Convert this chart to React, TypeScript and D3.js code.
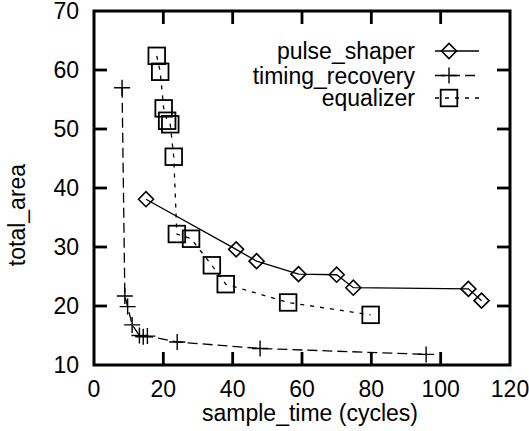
import React from "react";
import * as d3 from "d3";

const pulseX = [15.0, 41.0, 46.9, 59.0, 70.0, 74.8, 108.0, 111.8];
const pulseY = [38.1, 29.6, 27.6, 25.4, 25.3, 23.1, 22.9, 20.9];

const timingX = [8.1, 8.9, 9.7, 11.0, 13.1, 14.2, 15.4, 24.0, 47.9, 95.8];
const timingY = [57.0, 21.7, 19.9, 16.8, 15.0, 14.8, 14.9, 13.9, 12.8, 11.8];

const eqX = [18.1, 19.1, 20.1, 21.1, 22.0, 23.0, 23.9, 28.0, 34.0, 38.0, 56.0, 79.8];
const eqY = [62.4, 59.7, 53.5, 51.4, 50.8, 45.3, 32.2, 31.4, 26.9, 23.7, 20.6, 18.5];

const xTicks = [0, 20, 40, 60, 80, 100, 120];
const yTicks = [10, 20, 30, 40, 50, 60, 70];
const seriesNames = ["pulse_shaper", "timing_recovery", "equalizer"];

const W = 529;
const H = 431;
const L = 94;
const R = 510;
const T = 11;
const B = 365;
const FONT = "'Liberation Sans', Arial, Helvetica, sans-serif";

type Kind = "diamond" | "plus" | "square";

function Marker({ kind, x, y }: { kind: Kind; x: number; y: number }) {
  if (kind === "diamond") {
    const r = 7.5;
    return (
      <path
        d={`M${x - r},${y}L${x},${y - r}L${x + r},${y}L${x},${y + r}Z`}
        fill="none"
        stroke="#000"
        strokeWidth={1.6}
      />
    );
  }
  if (kind === "square") {
    const r = 8.3;
    return (
      <rect x={x - r} y={y - r} width={2 * r} height={2 * r} fill="none" stroke="#000" strokeWidth={1.8} />
    );
  }
  const r = 8;
  return (
    <path d={`M${x - r},${y}H${x + r}M${x},${y - r}V${y + r}`} fill="none" stroke="#000" strokeWidth={1.4} />
  );
}

export default function App() {
  const x = d3.scaleLinear().domain([0, 120]).range([L, R]);
  const y = d3.scaleLinear().domain([10, 70]).range([B, T]);
  const line = d3
    .line<[number, number]>()
    .x((d) => x(d[0]))
    .y((d) => y(d[1]));

  const series: { name: string; xs: number[]; ys: number[]; kind: Kind; dash?: string }[] = [
    { name: seriesNames[0], xs: pulseX, ys: pulseY, kind: "diamond" },
    { name: seriesNames[1], xs: timingX, ys: timingY, kind: "plus", dash: "10,5" },
    { name: seriesNames[2], xs: eqX, ys: eqY, kind: "square", dash: "4,6" },
  ];

  const legendRows = [51, 75.5, 98];
  const tickLen = 13;

  return (
    <svg
      width={W}
      height={H}
      style={{ position: "absolute", left: 0, top: 0, background: "#fff" }}
      fontFamily={FONT}
    >
      <rect x={0} y={0} width={W} height={H} fill="#fff" />
      {/* data lines */}
      {series.map((s) => (
        <path
          key={s.name + "l"}
          d={line(s.xs.map((v, i) => [v, s.ys[i]] as [number, number])) || ""}
          fill="none"
          stroke="#000"
          strokeWidth={1.3}
          strokeDasharray={s.dash}
        />
      ))}
      {series.map((s) =>
        s.xs.map((v, i) => <Marker key={s.name + i} kind={s.kind} x={x(v)} y={y(s.ys[i])} />)
      )}
      {/* ticks */}
      {xTicks.map((t) => (
        <g key={"xt" + t}>
          {t > 0 && t < 120 && (
            <>
              <line x1={x(t)} x2={x(t)} y1={B} y2={B - tickLen} stroke="#000" strokeWidth={2.8} />
              <line x1={x(t)} x2={x(t)} y1={T} y2={T + tickLen} stroke="#000" strokeWidth={2.8} />
            </>
          )}
          <text x={x(t)} y={397} textAnchor="middle" fontSize={23} fill="#000">
            {t}
          </text>
        </g>
      ))}
      {yTicks.map((t) => (
        <g key={"yt" + t}>
          {t > 10 && t < 70 && (
            <>
              <line x1={L} x2={L + tickLen} y1={y(t)} y2={y(t)} stroke="#000" strokeWidth={2.8} />
              <line x1={R} x2={R - tickLen} y1={y(t)} y2={y(t)} stroke="#000" strokeWidth={2.8} />
            </>
          )}
          <text x={79} y={y(t) + 8.2} textAnchor="end" fontSize={23} fill="#000">
            {t}
          </text>
        </g>
      ))}
      <rect x={L} y={T} width={R - L} height={B - T} fill="none" stroke="#000" strokeWidth={3} />
      {/* axis titles */}
      <text x={310} y={421} textAnchor="middle" fontSize={23} fill="#000">
        sample_time (cycles)
      </text>
      <text
        transform={`translate(25,215) rotate(-90)`}
        textAnchor="middle"
        fontSize={23}
        fill="#000"
      >
        total_area
      </text>
      {/* legend */}
      {series.map((s, i) => (
        <g key={"lg" + s.name}>
          <text x={415} y={legendRows[i] + 8.2} textAnchor="end" fontSize={23} fill="#000">
            {s.name}
          </text>
          <line
            x1={435}
            x2={479}
            y1={legendRows[i]}
            y2={legendRows[i]}
            stroke="#000"
            strokeWidth={1.3}
            strokeDasharray={s.dash}
          />
          <Marker kind={s.kind} x={449} y={legendRows[i]} />
        </g>
      ))}
    </svg>
  );
}
